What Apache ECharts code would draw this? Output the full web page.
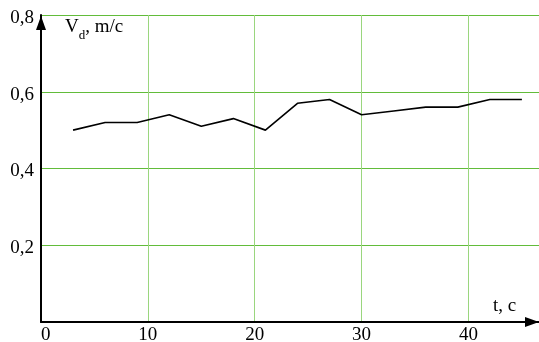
<!DOCTYPE html>
<html>
<head>
<meta charset="utf-8">
<script src="https://cdn.jsdelivr.net/npm/echarts@6/dist/echarts.min.js"></script>
<style>html,body{margin:0;padding:0;background:#fff;}#c{width:539px;height:342px;}</style>
</head>
<body>
<div id="c"></div>
<script>
var tValues = [3, 6, 9, 12, 15, 18, 21, 24, 27, 30, 33, 36, 39, 42, 45];
var vValues = [0.50, 0.52, 0.52, 0.54, 0.51, 0.53, 0.50, 0.57, 0.58, 0.54, 0.55, 0.56, 0.56, 0.58, 0.58];
var yAxisTitle = 'V';
var yAxisSub = 'd';
var yAxisUnit = ', m/c';
var xAxisTitle = 't, c';

var chart = echarts.init(document.getElementById('c'), null, {renderer: 'canvas'});
var font = 'Liberation Serif';
var data = tValues.map(function (t, i) { return [t, vValues[i]]; });
var vCol = '#9ad67e';
chart.setOption({
  animation: false,
  backgroundColor: '#fff',
  textStyle: {fontFamily: font},
  grid: {left: 41, right: 0, top: 15, bottom: 20, containLabel: false, outerBoundsMode: 'none'},
  xAxis: {
    type: 'value', min: 0, max: 46.6, interval: 10,
    axisLine: {show: true, lineStyle: {color: '#000', width: 2}, symbol: ['none', 'triangle'], symbolSize: [10, 14], symbolOffset: [0, -7]},
    axisTick: {show: false},
    axisLabel: {color: '#000', fontFamily: font, fontSize: 19, margin: 4, showMaxLabel: false, alignMinLabel: 'left',
      formatter: function (v) { return '{s|' + v + '}'; }, rich: {s: {fontFamily: font, fontSize: 19, color: '#000'}}},
    splitLine: {show: true, lineStyle: {color: [vCol, vCol, vCol, vCol, vCol, 'rgba(0,0,0,0)'], width: 1}}
  },
  yAxis: {
    type: 'value', min: 0, max: 0.8, interval: 0.2,
    axisLine: {show: true, lineStyle: {color: '#000', width: 2}, symbol: ['none', 'triangle'], symbolSize: [10, 14], symbolOffset: [0, -8]},
    axisTick: {show: false},
    axisLabel: {color: '#000', fontFamily: font, fontSize: 19, margin: 7, showMinLabel: false,
      formatter: function (v) { return '{s|' + v.toFixed(1).replace('.', ',') + '}'; },
      rich: {s: {fontFamily: font, fontSize: 19, color: '#000', padding: [6, 0, 0, 0]}}},
    splitLine: {show: true, lineStyle: {color: '#62bc3a', width: 1}}
  },
  graphic: [
    {type: 'text', left: 65, top: 18, style: {
      text: '{a|' + yAxisTitle + '}{b|' + yAxisSub + '}{a|' + yAxisUnit + '}',
      rich: {
        a: {fontFamily: font, fontSize: 19, fill: '#000', verticalAlign: 'bottom', lineHeight: 19},
        b: {fontFamily: font, fontSize: 13, fill: '#000', verticalAlign: 'bottom', lineHeight: 14, padding: [0, 0, -5, 0]}
      }
    }},
    {type: 'text', left: 493, top: 297, style: {text: xAxisTitle, fontFamily: font, fontSize: 19, fill: '#000'}}
  ],
  series: [{
    type: 'line', data: data, showSymbol: false, symbol: 'none',
    lineStyle: {color: '#000', width: 1.6}, z: 5
  }]
});
</script>
</body>
</html>
